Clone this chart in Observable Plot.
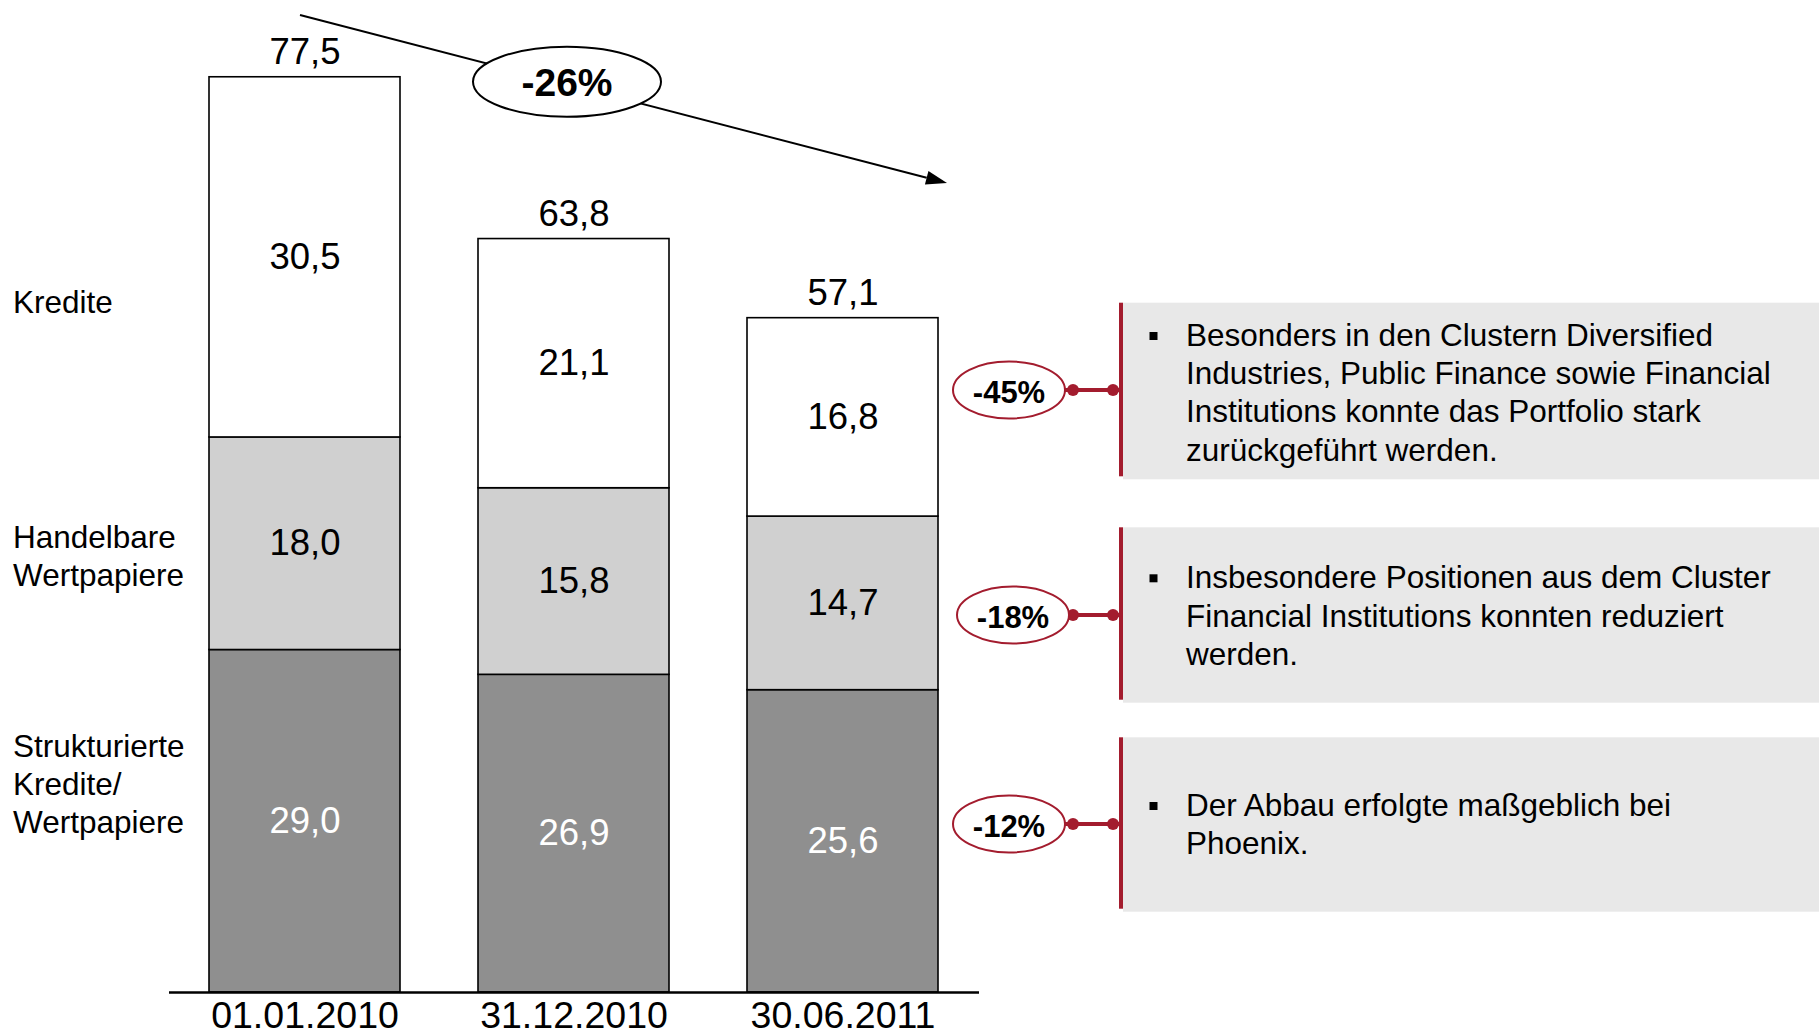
<!DOCTYPE html>
<html>
<head>
<meta charset="utf-8">
<script src="https://cdn.jsdelivr.net/npm/d3@7"></script>
<script src="https://cdn.jsdelivr.net/npm/@observablehq/plot@0.6"></script>
<style>
  html, body { margin: 0; padding: 0; background: #fff; overflow: hidden; }
  #chart svg { display: block; }
</style>
</head>
<body>
<div id="chart"></div>
<script>
// ---------- DATA ----------
const dates = ["01.01.2010", "31.12.2010", "30.06.2011"];
const seriesNames = ["Strukturierte Kredite/Wertpapiere", "Handelbare Wertpapiere", "Kredite"];
const strukturierte = [29.0, 26.9, 25.6];
const handelbare = [18.0, 15.8, 14.7];
const kredite = [30.5, 21.1, 16.8];
const totals = [77.5, 63.8, 57.1];
const seriesLabelLines = [["Strukturierte", "Kredite/", "Wertpapiere"], ["Handelbare", "Wertpapiere"], ["Kredite"]];
const totalChange = "-26%";
const seriesChanges = ["-12%", "-18%", "-45%"];
const seriesComments = [
  ["Der Abbau erfolgte maßgeblich bei", "Phoenix."],
  ["Insbesondere Positionen aus dem Cluster", "Financial Institutions konnten reduziert", "werden."],
  ["Besonders in den Clustern Diversified", "Industries, Public Finance sowie Financial", "Institutions konnte das Portfolio stark", "zurückgeführt werden."]
];

// ---------- STYLE / LAYOUT ----------
const FONT = "'Liberation Sans', Arial, Helvetica, sans-serif";
const W = 1819, H = 1035;
const RED = "#a31c2e";
const BOX = "#e8e8e8";
const fills = ["#8f8f8f", "#d0d0d0", "#ffffff"];
const fmt = v => v.toFixed(1).replace(".", ",");

const seriesValues = [strukturierte, handelbare, kredite];
const table = seriesNames.flatMap((s, si) => dates.map((d, di) => ({date: d, series: s, value: seriesValues[si][di]})));
const totalsTable = dates.map((d, i) => ({date: d, total: totals[i]}));

const plot = Plot.plot({
  width: W,
  height: H,
  marginTop: 0,
  marginBottom: 43,
  marginLeft: 169,
  marginRight: W - 979,
  style: {fontFamily: FONT, background: "#fff", color: "#000", overflow: "visible", maxWidth: "none"},
  x: {domain: dates, paddingInner: 0.289, paddingOuter: 0.1485, label: null},
  y: {domain: [0, 84], axis: null},
  color: {domain: seriesNames, range: fills},
  marks: [
    Plot.barY(table, {x: "date", y: "value", fill: "series", z: "series", order: seriesNames, stroke: "#000", strokeWidth: 1.6}),
    Plot.text(table, Plot.stackY({
      x: "date", y: "value", z: "series", order: seriesNames,
      text: d => d.series === seriesNames[0] ? null : fmt(d.value),
      fill: "#000", fontSize: 36.5
    })),
    Plot.text(table, Plot.stackY({
      x: "date", y: "value", z: "series", order: seriesNames,
      text: d => d.series === seriesNames[0] ? fmt(d.value) : null,
      fill: "#fff", fontSize: 36.5
    })),
    Plot.text(totalsTable, {x: "date", y: "total", text: d => fmt(d.total), dy: -25, fontSize: 36.5, fill: "#000"}),
    Plot.ruleY([0], {stroke: "#000", strokeWidth: 2.5}),
    Plot.axisX({tickSize: 0, tickPadding: 9, fontSize: 37.5, fill: "#000", label: null})
  ]
});

document.getElementById("chart").appendChild(plot);

// ---------- ANNOTATIONS ----------
const svg = d3.select(plot);
const ann = svg.append("g").attr("font-family", FONT).attr("text-anchor", "start");

// Series labels on the left
const leftLayout = [{x: 13, y: 757.3}, {x: 13, y: 547.7}, {x: 13, y: 313.3}];
const leftLH = 37.8;
seriesLabelLines.forEach((lines, i) => {
  lines.forEach((t, j) => {
    ann.append("text")
      .attr("x", leftLayout[i].x)
      .attr("y", leftLayout[i].y + j * leftLH)
      .attr("text-anchor", "start")
      .attr("font-size", 31.5)
      .attr("fill", "#000")
      .text(t);
  });
});

// Total change arrow
const a0 = [300, 15], a1 = [947, 183];
const dxA = a1[0] - a0[0], dyA = a1[1] - a0[1];
const lenA = Math.hypot(dxA, dyA);
const ux = dxA / lenA, uy = dyA / lenA;
const headL = 21, headW = 7;
const bx = a1[0] - ux * headL, by = a1[1] - uy * headL;
ann.append("line")
  .attr("x1", a0[0]).attr("y1", a0[1]).attr("x2", bx).attr("y2", by)
  .attr("stroke", "#000").attr("stroke-width", 2);
ann.append("polygon")
  .attr("points", [[a1[0], a1[1]], [bx - uy * headW, by + ux * headW], [bx + uy * headW, by - ux * headW]].map(p => p.join(",")).join(" "))
  .attr("fill", "#000");
ann.append("ellipse")
  .attr("cx", 567).attr("cy", 81.7).attr("rx", 94).attr("ry", 35)
  .attr("fill", "#fff").attr("stroke", "#000").attr("stroke-width", 2);
ann.append("text")
  .attr("x", 567).attr("y", 81.7 + 14)
  .attr("text-anchor", "middle")
  .attr("font-size", 39).attr("font-weight", "bold")
  .attr("fill", "#000")
  .text(totalChange);

// Comment panels on the right
const panelLayout = [
  {top: 737.3, bottom: 911.7, cx: 1009, cy: 824, firstBaseline: 816},
  {top: 527.3, bottom: 702.7, cx: 1013, cy: 615, firstBaseline: 588.3},
  {top: 302.7, bottom: 479.3, cx: 1009, cy: 390, firstBaseline: 346}
];
const panelLH = 38.2;
seriesComments.forEach((lines, i) => {
  const L = panelLayout[i];
  ann.append("rect")
    .attr("x", 1123).attr("y", L.top).attr("width", W - 1123).attr("height", L.bottom - L.top)
    .attr("fill", BOX);
  ann.append("rect")
    .attr("x", 1119).attr("y", L.top).attr("width", 4).attr("height", L.bottom - L.top - 3)
    .attr("fill", RED);
  // connector
  ann.append("line")
    .attr("x1", L.cx + 50).attr("x2", 1119).attr("y1", L.cy).attr("y2", L.cy)
    .attr("stroke", RED).attr("stroke-width", 4);
  [1073, 1113].forEach(cx => ann.append("circle").attr("cx", cx).attr("cy", L.cy).attr("r", 6).attr("fill", RED));
  ann.append("ellipse")
    .attr("cx", L.cx).attr("cy", L.cy).attr("rx", 56).attr("ry", 28.5)
    .attr("fill", "#fff").attr("stroke", RED).attr("stroke-width", 2);
  ann.append("text")
    .attr("x", L.cx).attr("y", L.cy + 13)
    .attr("text-anchor", "middle")
    .attr("font-size", 31).attr("font-weight", "bold")
    .attr("fill", "#000")
    .text(seriesChanges[i]);
  // bullet
  ann.append("rect")
    .attr("x", 1149.5).attr("y", L.firstBaseline - 14).attr("width", 8).attr("height", 8)
    .attr("fill", "#000");
  lines.forEach((t, j) => {
    ann.append("text")
      .attr("x", 1186)
      .attr("y", L.firstBaseline + j * panelLH)
      .attr("text-anchor", "start")
      .attr("font-size", 31.5)
      .attr("fill", "#000")
      .text(t);
  });
});
</script>
</body>
</html>
